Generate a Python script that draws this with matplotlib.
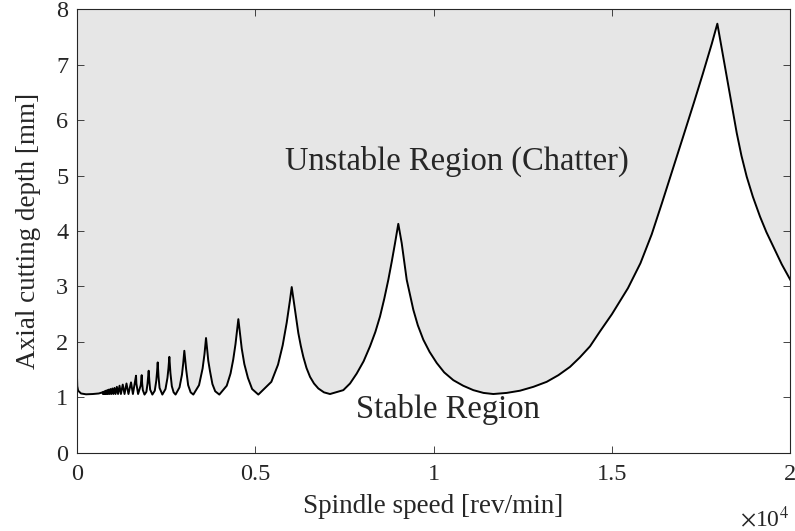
import matplotlib
matplotlib.use("Agg")
import matplotlib.pyplot as plt
import numpy as np

plt.rcParams["font.family"] = ["Liberation Serif", "DejaVu Serif"]
plt.rcParams["mathtext.fontset"] = "stix"

# stability lobe boundary (speed in rev/min, depth in mm)
# near-zero speed + many tiny lobes (k >= 10)
low_rpm = [0, 15, 40, 120, 260, 450, 620,
           720, 734, 750, 765, 783, 799, 818, 836, 857, 876, 900, 921, 947, 971,
           1000, 1028, 1059, 1088, 1125, 1158, 1200, 1238, 1290, 1340, 1395, 1450,
           1522, 1575, 1662, 1672, 1720, 1795, 1821]
low_depth = [1.55, 1.20, 1.12, 1.07, 1.055, 1.06, 1.07,
             1.09, 1.06, 1.10, 1.06, 1.11, 1.06, 1.12, 1.06, 1.13, 1.06, 1.14, 1.06, 1.15, 1.06,
             1.16, 1.06, 1.17, 1.06, 1.19, 1.06, 1.21, 1.06, 1.23, 1.06, 1.25, 1.06,
             1.27, 1.06, 1.39, 1.25, 1.06, 1.22, 1.40]

# lobes k = 9 .. 3
mid_rpm = [1834, 1853, 1900, 1953, 1985, 2003, 2017,
           2035, 2058, 2120, 2188, 2230, 2252, 2270,
           2292, 2322, 2400, 2488, 2543, 2572, 2596,
           2626, 2666, 2716, 2770, 2881, 2950, 2986, 3016,
           3068, 3123, 3193, 3268, 3428, 3528, 3581, 3624,
           3687, 3736, 3803, 3881, 3997, 4205, 4311, 4386, 4450, 4503, 4530,
           4625, 4698, 4799, 4916, 5090, 5455, 5642, 5773, 5886, 5979, 6026]
mid_depth = [1.25, 1.13, 1.05, 1.10, 1.25, 1.37, 1.48,
             1.30, 1.14, 1.05, 1.12, 1.30, 1.46, 1.63,
             1.38, 1.17, 1.05, 1.15, 1.35, 1.53, 1.73,
             1.44, 1.20, 1.09, 1.05, 1.18, 1.41, 1.62, 1.84,
             1.50, 1.22, 1.09, 1.05, 1.22, 1.52, 1.78, 2.07,
             1.66, 1.47, 1.24, 1.11, 1.05, 1.21, 1.43, 1.68, 1.96, 2.25, 2.41,
             1.88, 1.60, 1.35, 1.15, 1.05, 1.28, 1.59, 1.94, 2.35, 2.76, 2.99]

# lobe k = 2
lobe2_rpm = [6118, 6211, 6280, 6351, 6440, 6539, 6650, 6772, 6930, 7099,
             7472, 7660, 7848, 8040, 8220, 8370, 8501, 8620, 8733, 8830, 8921, 9013]
lobe2_depth = [2.58, 2.16, 1.93, 1.73, 1.53, 1.37, 1.25, 1.16, 1.09, 1.06,
               1.13, 1.25, 1.43, 1.65, 1.92, 2.18, 2.46, 2.78, 3.12, 3.45, 3.78, 4.13]

# lobe k = 1
lobe1_rpm = [9109, 9249, 9434, 9560, 9714, 9890, 10090, 10300, 10555, 10830, 11116,
             11400, 11676, 12050, 12424, 12800, 13172, 13500, 13826, 14100, 14386,
             14666, 15000, 15450, 15800, 16115, 16400, 16684, 17000, 17300, 17545,
             17800, 17955,
             18218, 18498, 18630, 18778, 18950, 19151, 19330, 19524, 19760, 20000]
lobe1_depth = [3.78, 3.12, 2.58, 2.30, 2.04, 1.82, 1.62, 1.45, 1.31, 1.21, 1.13,
               1.08, 1.06, 1.08, 1.12, 1.19, 1.28, 1.40, 1.55, 1.72, 1.92,
               2.19, 2.50, 2.97, 3.42, 3.94, 4.50, 5.07, 5.71, 6.32, 6.83,
               7.38, 7.74,
               6.79, 5.77, 5.36, 4.98, 4.62, 4.26, 3.98, 3.72, 3.40, 3.12]

x_ticks = [0, 5000, 10000, 15000, 20000]
x_tick_labels = ["0", "0.5", "1", "1.5", "2"]
y_ticks = [0, 1, 2, 3, 4, 5, 6, 7, 8]

speed = np.array(low_rpm + mid_rpm + lobe2_rpm + lobe1_rpm, dtype=float)
depth = np.array(low_depth + mid_depth + lobe2_depth + lobe1_depth, dtype=float)

ink = "#262626"
fig = plt.figure(figsize=(7.95, 5.31), dpi=100)
ax = fig.add_axes([0.0965, 0.1473, 0.8976, 0.8352])

ax.fill_between(speed, depth, 8, color="#e6e6e6", linewidth=0)
ax.plot(speed, depth, color="black", linewidth=1.4)

ax.set_xlim(0, 20000)
ax.set_ylim(0, 8)
ax.set_xticks(x_ticks, x_tick_labels)
ax.set_yticks(y_ticks)
ax.tick_params(direction="in", length=5, width=0.6, color=ink, labelcolor=ink,
               labelsize=17.5, top=True, right=True)
ax.tick_params(axis="x", pad=8)
ax.tick_params(axis="y", pad=6)
for sp in ax.spines.values():
    sp.set_color(ink)
    sp.set_linewidth(0.8)

ax.set_xlabel("Spindle speed [rev/min]", fontsize=19.5, color=ink, va="top")
ax.xaxis.set_label_coords(0.5, -0.094)
ax.set_ylabel("Axial cutting depth [mm]", fontsize=19.5, color=ink)
ax.yaxis.set_label_coords(-0.050, 0.5)

ax.text(10645, 5.105, "Unstable Region (Chatter)", fontsize=23.5, color=ink,
        ha="center", va="baseline")
ax.text(10392, 0.62, "Stable Region", fontsize=23.5, color=ink,
        ha="center", va="baseline")
fig.text(0.992, 0.0075, r"$\times$10$^{4}$", fontsize=17, color=ink,
         ha="right", va="baseline")

fig.savefig("out.png", dpi=100)
